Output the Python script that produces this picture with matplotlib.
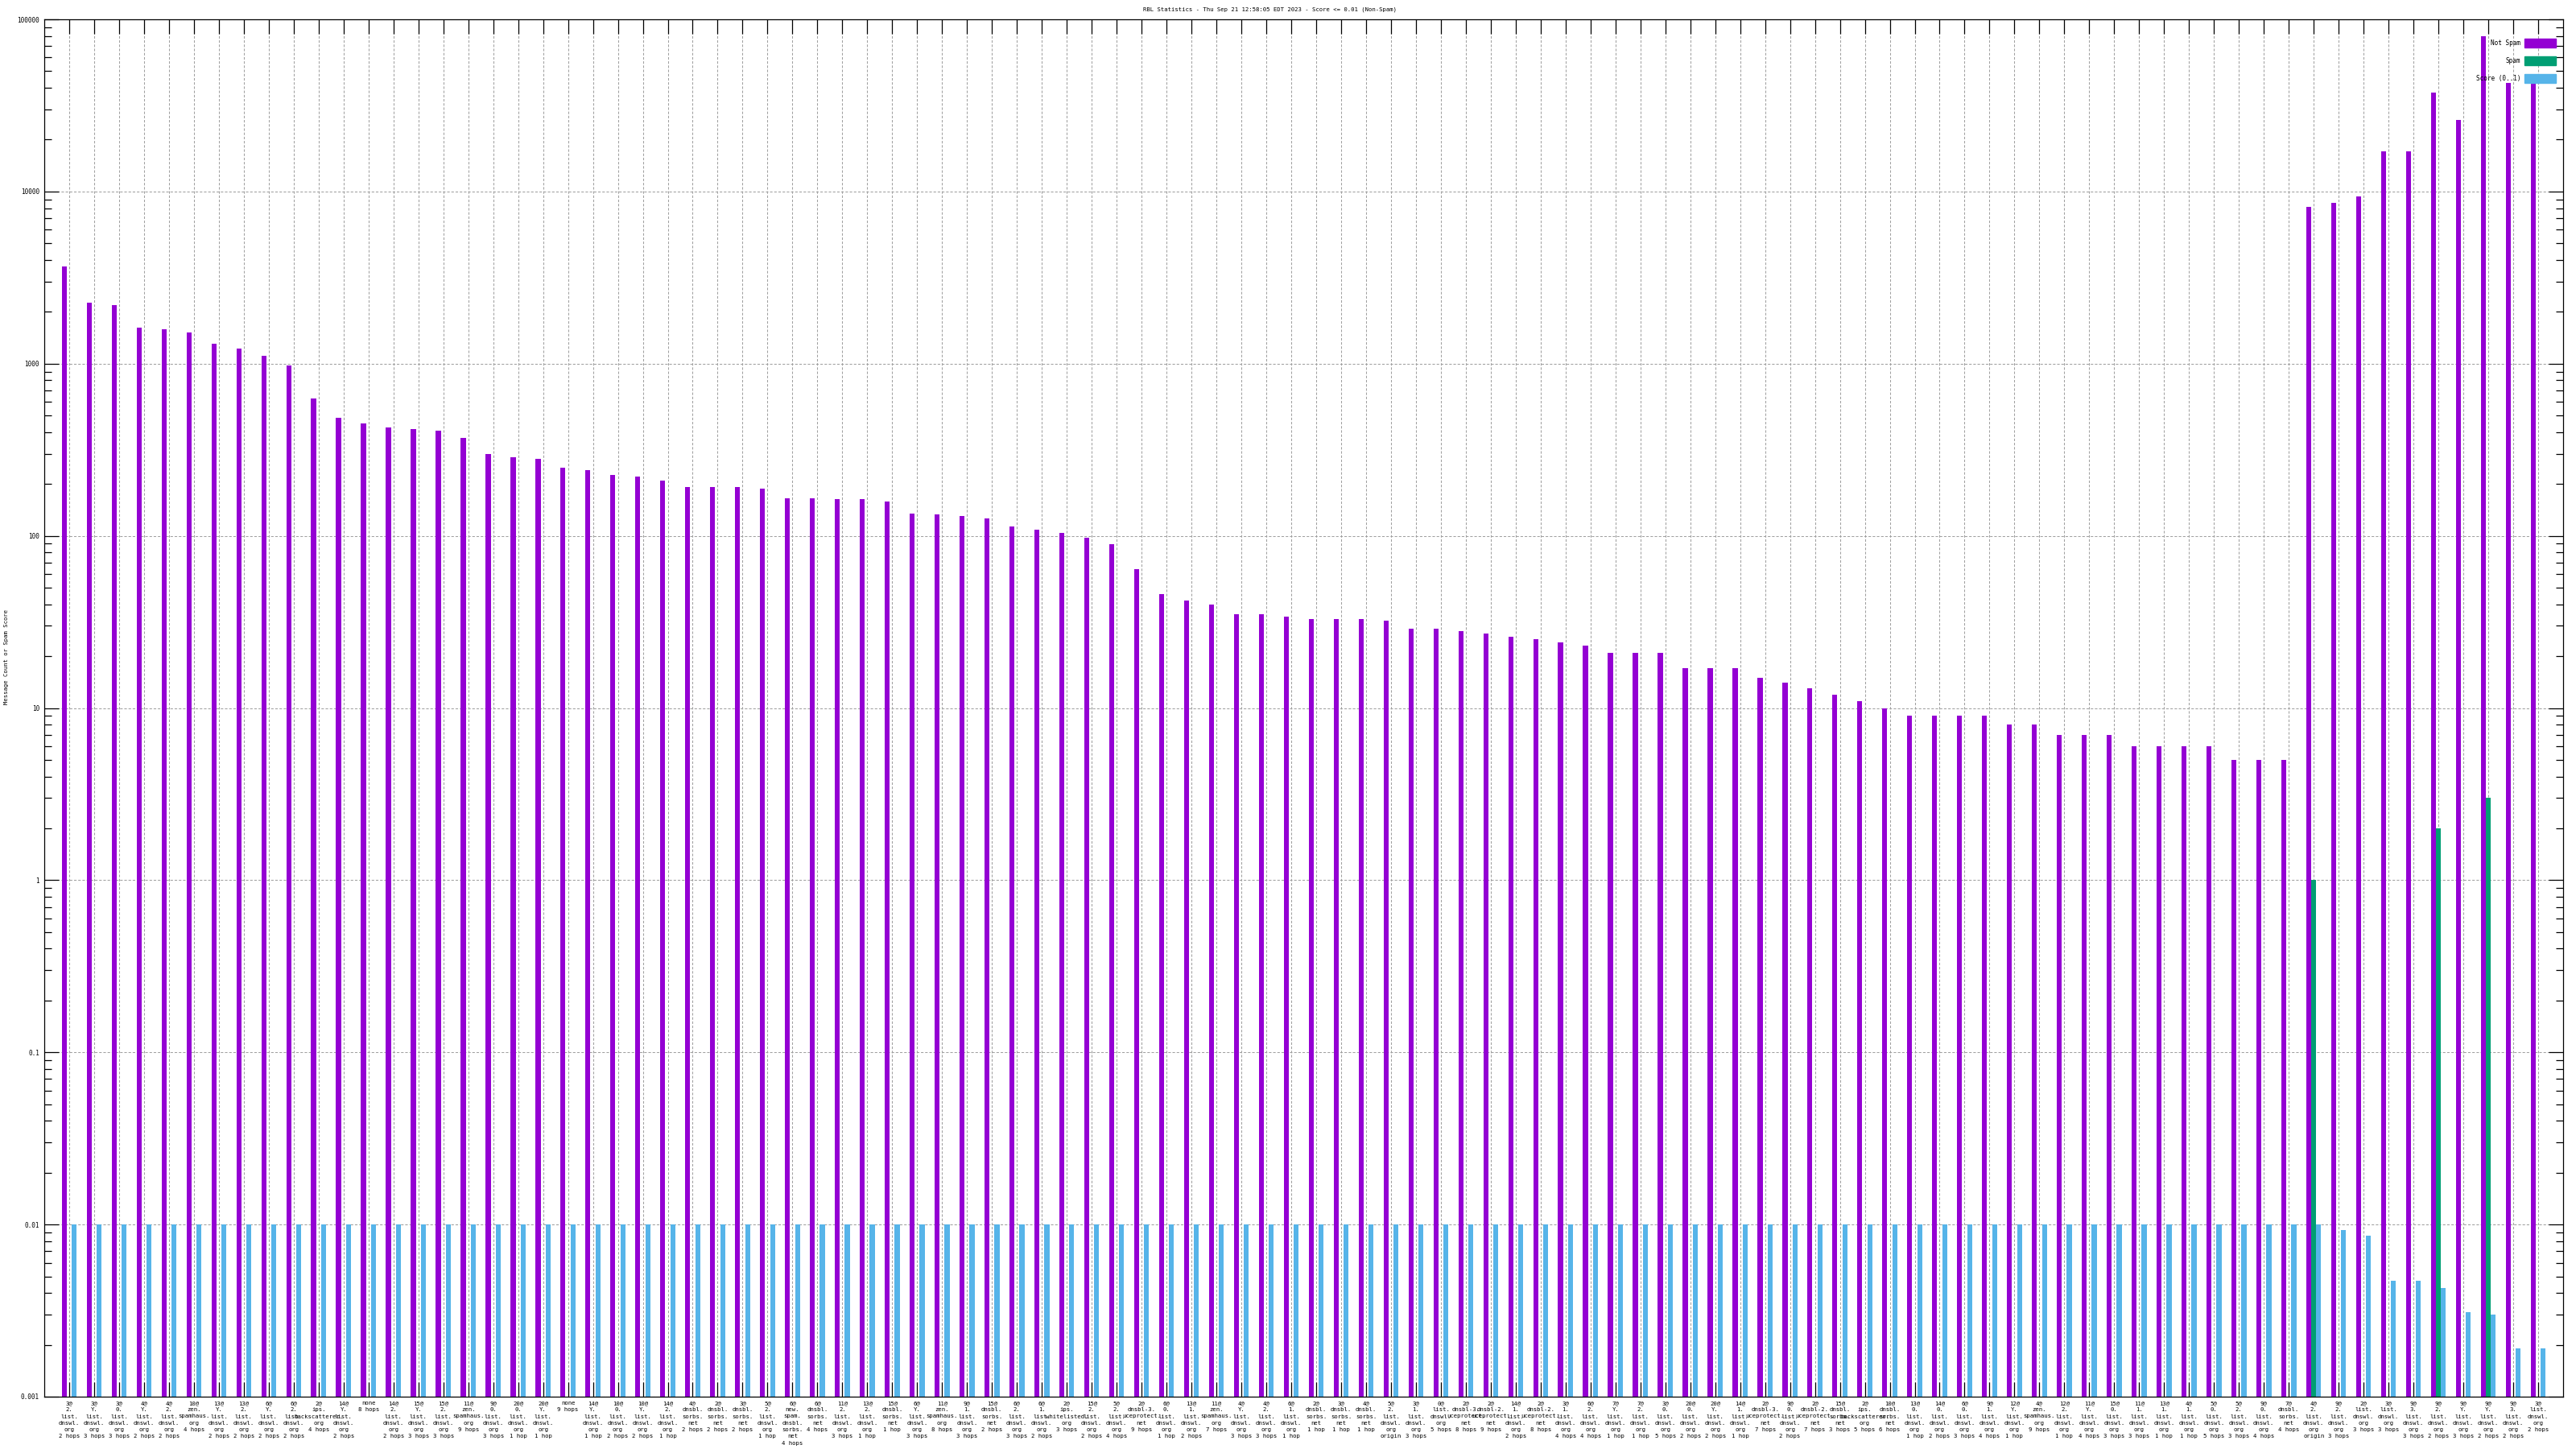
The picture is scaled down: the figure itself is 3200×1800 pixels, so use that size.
# -*- coding: utf-8 -*-
# RBL Statistics - gráfico de barras em escala log (estilo gnuplot)

import re
import numpy as np
import matplotlib
matplotlib.use("Agg")
import matplotlib.pyplot as plt
from matplotlib.patches import Rectangle
from matplotlib.ticker import LogLocator, NullFormatter

titulo = "RBL Statistics - Thu Sep 21 12:58:05 EDT 2023 - Score <= 0.01 (Non-Spam)"
rotulo_y = "Message Count or Spam Score"
legendas = ["Not Spam", "Spam", "Score (0..1)"]

rotulos = [
    "3@2.list.dnswl.org 2 hops", "3@Y.list.dnswl.org 3 hops", "3@0.list.dnswl.org 3 hops",
    "4@Y.list.dnswl.org 2 hops", "4@2.list.dnswl.org 2 hops", "10@zen.spamhaus.org 4 hops",
    "13@Y.list.dnswl.org 2 hops", "13@2.list.dnswl.org 2 hops", "6@Y.list.dnswl.org 2 hops",
    "6@2.list.dnswl.org 2 hops", "2@ips.backscatterer.org 4 hops", "14@Y.list.dnswl.org 2 hops",
    "none 8 hops", "14@2.list.dnswl.org 2 hops", "15@Y.list.dnswl.org 3 hops",
    "15@2.list.dnswl.org 3 hops", "11@zen.spamhaus.org 9 hops", "9@0.list.dnswl.org 3 hops",
    "20@0.list.dnswl.org 1 hop", "20@Y.list.dnswl.org 1 hop", "none 9 hops",
    "14@Y.list.dnswl.org 1 hop", "10@0.list.dnswl.org 2 hops", "10@Y.list.dnswl.org 2 hops",
    "14@2.list.dnswl.org 1 hop", "4@dnsbl.sorbs.net 2 hops", "2@dnsbl.sorbs.net 2 hops",
    "3@dnsbl.sorbs.net 2 hops", "5@2.list.dnswl.org 1 hop", "6@new.spam.dnsbl.sorbs.net 4 hops",
    "6@dnsbl.sorbs.net 4 hops", "11@2.list.dnswl.org 3 hops", "13@2.list.dnswl.org 1 hop",
    "15@dnsbl.sorbs.net 1 hop", "6@Y.list.dnswl.org 3 hops", "11@zen.spamhaus.org 8 hops",
    "9@1.list.dnswl.org 3 hops", "15@dnsbl.sorbs.net 2 hops", "6@2.list.dnswl.org 3 hops",
    "6@1.list.dnswl.org 2 hops", "2@ips.whitelisted.org 3 hops", "15@2.list.dnswl.org 2 hops",
    "5@2.list.dnswl.org 4 hops", "2@dnsbl-3.uceprotect.net 9 hops", "6@0.list.dnswl.org 1 hop",
    "13@1.list.dnswl.org 2 hops", "11@zen.spamhaus.org 7 hops", "4@Y.list.dnswl.org 3 hops",
    "4@2.list.dnswl.org 3 hops", "6@1.list.dnswl.org 1 hop", "2@dnsbl.sorbs.net 1 hop",
    "3@dnsbl.sorbs.net 1 hop", "4@dnsbl.sorbs.net 1 hop", "5@2.list.dnswl.org origin",
    "3@1.list.dnswl.org 3 hops", "0@list.dnswl.org 5 hops", "2@dnsbl-3.uceprotect.net 8 hops",
    "2@dnsbl-2.uceprotect.net 9 hops", "14@1.list.dnswl.org 2 hops", "2@dnsbl-2.uceprotect.net 8 hops",
    "3@1.list.dnswl.org 4 hops", "6@2.list.dnswl.org 4 hops", "7@Y.list.dnswl.org 1 hop",
    "7@2.list.dnswl.org 1 hop", "3@0.list.dnswl.org 5 hops", "20@0.list.dnswl.org 2 hops",
    "20@Y.list.dnswl.org 2 hops", "14@1.list.dnswl.org 1 hop", "2@dnsbl-3.uceprotect.net 7 hops",
    "9@0.list.dnswl.org 2 hops", "2@dnsbl-2.uceprotect.net 7 hops", "15@dnsbl.sorbs.net 3 hops",
    "2@ips.backscatterer.org 5 hops", "10@dnsbl.sorbs.net 6 hops", "13@0.list.dnswl.org 1 hop",
    "14@0.list.dnswl.org 2 hops", "6@0.list.dnswl.org 3 hops", "9@1.list.dnswl.org 4 hops",
    "12@Y.list.dnswl.org 1 hop", "4@zen.spamhaus.org 9 hops", "12@2.list.dnswl.org 1 hop",
    "11@Y.list.dnswl.org 4 hops", "15@0.list.dnswl.org 3 hops", "11@1.list.dnswl.org 3 hops",
    "13@1.list.dnswl.org 1 hop", "4@1.list.dnswl.org 1 hop", "5@0.list.dnswl.org 5 hops",
    "5@2.list.dnswl.org 3 hops", "9@0.list.dnswl.org 4 hops", "7@dnsbl.sorbs.net 4 hops",
    "4@2.list.dnswl.org origin", "9@2.list.dnswl.org 3 hops", "2@list.dnswl.org 3 hops",
    "3@list.dnswl.org 3 hops", "9@3.list.dnswl.org 3 hops", "9@2.list.dnswl.org 2 hops",
    "9@Y.list.dnswl.org 3 hops", "9@Y.list.dnswl.org 2 hops", "9@3.list.dnswl.org 2 hops",
    "3@list.dnswl.org 2 hops",
]

nao_spam = [
    3650, 2250, 2200, 1620, 1590, 1520, 1300, 1220, 1115, 980,
    630, 485, 450, 425, 415, 410, 370, 300, 285, 280,
    250, 240, 225, 222, 210, 193, 192, 192, 188, 165,
    165, 163, 163, 158, 135, 133, 130, 126, 113, 108,
    104, 98, 89, 64, 46, 42, 40, 35, 35, 34,
    33, 33, 33, 32, 29, 29, 28, 27, 26, 25,
    24, 23, 21, 21, 21, 17, 17, 17, 15, 14,
    13, 12, 11, 10, 9, 9, 9, 9, 8, 8,
    7, 7, 7, 6, 6, 6, 6, 5, 5, 5,
    8150, 8600, 9370, 17100, 17100, 37600, 26100, 79800, 42800, 42800,
]

spam = [0] * 90 + [1, 0, 0, 0, 0, 2, 0, 3, 0, 0]

score = [0.01] * 91 + [0.0093, 0.0086, 0.0047, 0.0047, 0.0043, 0.0031, 0.0030, 0.0019, 0.0019]


def quebra(rotulo):
    # quebra "3@2.list.dnswl.org 2 hops" em linhas, como no gnuplot
    host, _, hops = rotulo.partition(" ")
    linhas = []
    if "@" in host:
        pre, resto = host.split("@")
        linhas.append(pre + "@")
        linhas += re.findall(r"[^.]+\.?", resto)
    else:
        linhas.append(host)
    linhas.append(hops)
    return "\n".join(linhas)


W, H = 3200, 1800
fonte = "DejaVu Sans Mono"
roxo, verde, azul = "#9400d3", "#009e73", "#56b4e9"

fig = plt.figure(figsize=(W / 100, H / 100), dpi=100)
ax = fig.add_axes([55 / W, 1 - 1735 / H, (3184 - 55) / W, (1735 - 24) / H])

x = np.arange(len(rotulos))
ax.bar(x - 0.2, nao_spam, 0.2, color=roxo, zorder=2)
ax.bar(x, spam, 0.2, color=verde, zorder=2)
ax.bar(x + 0.2, score, 0.2, color=azul, zorder=2)

ax.set_yscale("log")
ax.set_ylim(0.001, 100000)
ax.set_xlim(-1, len(rotulos))

ax.set_xticks(x)
ax.set_xticklabels([quebra(r) for r in rotulos], fontsize=5.2, family=fonte,
                   linespacing=1.45, va="top", ha="center")
ax.tick_params(axis="x", direction="in", length=13, width=0.9, top=True, pad=3.6)

decadas = [10.0 ** k for k in range(-3, 6)]
ax.set_yticks(decadas)
ax.set_yticklabels(["0.001", "0.01", "0.1", "1", "10", "100", "1000", "10000", "100000"],
                   fontsize=5.5, family=fonte)
ax.yaxis.set_minor_locator(LogLocator(base=10, subs=range(2, 10), numticks=20))
ax.yaxis.set_minor_formatter(NullFormatter())
ax.tick_params(axis="y", which="major", direction="in", length=13, width=0.9, right=True, pad=4.3)
ax.tick_params(axis="y", which="minor", direction="in", length=6.5, width=0.9, right=True)

ax.set_axisbelow(True)
ax.grid(True, which="major", color="#a0a0a0", linestyle=(0, (3, 2)), linewidth=0.75)
for s in ax.spines.values():
    s.set_linewidth(0.9)

fig.text(1577 / W, 1 - 12 / H, titulo, ha="center", va="center", fontsize=5.2, family=fonte)
fig.text(8 / W, 1 - 816 / H, rotulo_y, ha="center", va="center", rotation=90,
         fontsize=5.2, family=fonte)

# legenda no canto superior direito
for k, (nome, cor) in enumerate(zip(legendas, [roxo, verde, azul])):
    yc = 53.5 + 22 * k
    fig.text(3131 / W, 1 - yc / H, nome, ha="right", va="center", fontsize=5.5, family=fonte)
    fig.add_artist(Rectangle((3136 / W, 1 - (yc + 5.5) / H), 39 / W, 11 / H,
                             transform=fig.transFigure, color=cor))

fig.savefig("out.png", dpi=100)
